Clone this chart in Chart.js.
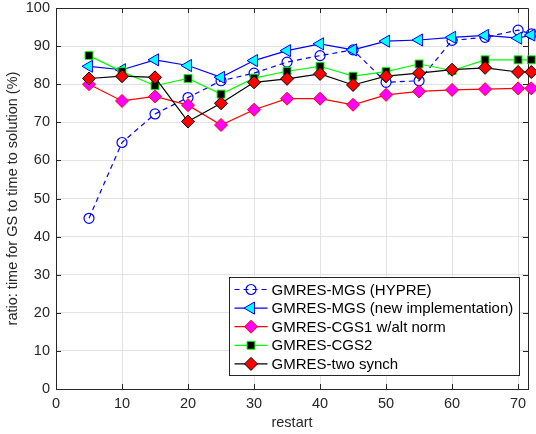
<!DOCTYPE html>
<html>
<head>
<meta charset="utf-8">
<script src="https://cdn.jsdelivr.net/npm/chart.js@4/dist/chart.umd.min.js"></script>
<style>
  html, body { margin: 0; padding: 0; background: #fff; }
  #wrap { width: 536px; height: 434px; }
</style>
</head>
<body>
<div id="wrap"><canvas id="chart" width="536" height="434"></canvas></div>
<script>
// data
const restart = [5, 10, 15, 20, 25, 30, 35, 40, 45, 50, 55, 60, 65, 70, 72];
const mgsHypre = [44.8, 64.7, 72.2, 76.5, 80.9, 82.9, 85.8, 87.5, 89.0, 80.5, 80.9, 91.5, 92.3, 94.2, 93.2];
const mgsNew = [84.7, 83.8, 86.4, 84.9, 81.8, 86.2, 88.8, 90.6, 89.0, 91.3, 91.6, 92.3, 92.8, 92.1, 92.9];
const cgs1 = [80.0, 75.6, 76.8, 74.5, 69.3, 73.3, 76.2, 76.2, 74.6, 77.2, 78.1, 78.5, 78.7, 78.9, 78.9];
const cgs2 = [87.5, 83.3, 79.6, 81.5, 77.4, 81.6, 83.4, 84.7, 82.1, 83.3, 85.3, 83.6, 86.4, 86.4, 86.4];
const twoSynch = [81.5, 82.1, 81.8, 70.2, 75.0, 80.5, 81.4, 82.7, 79.8, 82.1, 82.9, 83.8, 84.3, 83.2, 83.2];

const xTicks = [0, 10, 20, 30, 40, 50, 60, 70];
const yTicks = [0, 10, 20, 30, 40, 50, 60, 70, 80, 90, 100];
const xMax = 71.5;

const FONT = '"Liberation Sans", Arial, Helvetica, sans-serif';
const AXIS = '#262626';

const pts = vals => vals.map((v, i) => ({ x: restart[i], y: v }));

const datasets = [
  {
    label: 'GMRES-MGS (HYPRE)', data: pts(mgsHypre),
    borderColor: '#0000ff', borderWidth: 1.2, borderDash: [5, 4],
    pointStyle: 'circle', pointRadius: 5, pointBorderColor: '#0000ff',
    pointBackgroundColor: 'rgba(0,0,0,0)', pointBorderWidth: 1.2, order: 5
  },
  {
    label: 'GMRES-MGS (new implementation)', data: pts(mgsNew),
    borderColor: '#0000ff', borderWidth: 1.2,
    pointStyle: 'triangle', pointRotation: -90, pointRadius: 7, pointBorderColor: '#0000ff',
    pointBackgroundColor: '#00ffff', pointBorderWidth: 1, order: 4
  },
  {
    label: 'GMRES-CGS1 w/alt norm', data: pts(cgs1),
    borderColor: '#ff0000', borderWidth: 1.2,
    pointStyle: 'rectRot', pointRadius: 6.5, pointBorderColor: '#ff0000',
    pointBackgroundColor: '#ff00ff', pointBorderWidth: 1, order: 3
  },
  {
    label: 'GMRES-CGS2', data: pts(cgs2),
    borderColor: '#00ff00', borderWidth: 1.2,
    pointStyle: 'rect', pointRadius: 5.6, pointBorderColor: '#00ff00',
    pointBackgroundColor: '#000000', pointBorderWidth: 1, order: 2
  },
  {
    label: 'GMRES-two synch', data: pts(twoSynch),
    borderColor: '#000000', borderWidth: 1.2,
    pointStyle: 'rectRot', pointRadius: 6.5, pointBorderColor: '#000000',
    pointBackgroundColor: '#ff0000', pointBorderWidth: 1, order: 1
  }
];

// top/right box lines and inward tick marks, matlab style
const axesBox = {
  id: 'axesBox',
  beforeDatasetsDraw(chart) {
    const { ctx, chartArea: a, scales } = chart;
    ctx.save();
    ctx.strokeStyle = AXIS;
    ctx.lineWidth = 1;
    ctx.beginPath();
    ctx.moveTo(a.left, a.top + 0.5);
    ctx.lineTo(a.right + 0.5, a.top + 0.5);
    ctx.lineTo(a.right + 0.5, a.bottom);
    const tl = 5;
    xTicks.forEach(v => {
      const px = Math.round(scales.x.getPixelForValue(v)) + 0.5;
      ctx.moveTo(px, a.bottom); ctx.lineTo(px, a.bottom - tl);
      ctx.moveTo(px, a.top); ctx.lineTo(px, a.top + tl);
    });
    yTicks.forEach(v => {
      const py = Math.round(scales.y.getPixelForValue(v)) + 0.5;
      ctx.moveTo(a.left, py); ctx.lineTo(a.left + tl, py);
      ctx.moveTo(a.right, py); ctx.lineTo(a.right - tl, py);
    });
    ctx.stroke();
    ctx.restore();
  }
};

// legend box in lower right of the plot
const legendBox = {
  id: 'legendBox',
  afterDraw(chart) {
    const { ctx, chartArea: a } = chart;
    const right = a.right - 9, bottom = a.bottom - 14;
    const rowH = 18.6, lineLen = 33, textGap = 4;
    ctx.save();
    ctx.font = '15px ' + FONT;
    let tw = 0;
    datasets.forEach(d => { tw = Math.max(tw, ctx.measureText(d.label).width); });
    const w = 5 + lineLen + textGap + tw + 6;
    const h = rowH * datasets.length + 5;
    const left = Math.round(right - w) + 0.5, top = Math.round(bottom - h) + 0.5;
    ctx.fillStyle = '#fff';
    ctx.fillRect(left, top, w, h);
    ctx.strokeStyle = AXIS;
    ctx.lineWidth = 1;
    ctx.strokeRect(left, top, Math.round(w), Math.round(h));
    datasets.forEach((d, i) => {
      const cy = top + 12 + i * rowH;
      const x0 = left + 5, x1 = x0 + lineLen, cx = (x0 + x1) / 2;
      ctx.save();
      ctx.strokeStyle = d.borderColor;
      ctx.lineWidth = d.borderWidth;
      ctx.setLineDash(d.borderDash || []);
      ctx.beginPath();
      ctx.moveTo(x0, cy); ctx.lineTo(x1, cy);
      ctx.stroke();
      ctx.restore();
      ctx.fillStyle = d.pointBackgroundColor;
      ctx.strokeStyle = d.pointBorderColor;
      ctx.lineWidth = d.pointBorderWidth;
      Chart.helpers.drawPoint(ctx, {
        pointStyle: d.pointStyle, rotation: d.pointRotation || 0,
        radius: d.pointRadius, borderWidth: d.pointBorderWidth
      }, cx, cy);
      ctx.fillStyle = '#000';
      ctx.textBaseline = 'middle';
      ctx.textAlign = 'left';
      ctx.fillText(d.label, x1 + textGap, cy + 1);
    });
    ctx.restore();
  }
};

new Chart(document.getElementById('chart'), {
  type: 'line',
  data: { datasets },
  plugins: [axesBox, legendBox],
  options: {
    responsive: false,
    animation: false,
    events: [],
    layout: { padding: { top: 8, right: 4, left: 0, bottom: 0 } },
    elements: { line: { tension: 0, fill: false } },
    datasets: { line: { clip: false } },
    plugins: { legend: { display: false }, tooltip: { enabled: false } },
    scales: {
      x: {
        type: 'linear', min: 0, max: xMax,
        afterFit: s => { s.height = 45; s.paddingLeft = 0; s.paddingRight = 0; },
        afterBuildTicks: s => { s.ticks = xTicks.map(v => ({ value: v })); },
        ticks: { color: AXIS, padding: 6, font: { family: FONT, size: 14.5 } },
        grid: { color: '#e2e2e2', drawTicks: false },
        border: { color: AXIS, width: 1 },
        title: { display: true, text: 'restart', color: AXIS, padding: 2, font: { family: FONT, size: 14.5 } }
      },
      y: {
        min: 0, max: 100,
        afterFit: s => { s.width = 56; s.paddingTop = 0; s.paddingBottom = 0; },
        afterBuildTicks: s => { s.ticks = yTicks.map(v => ({ value: v })); },
        ticks: { color: AXIS, padding: 6, font: { family: FONT, size: 14.5 } },
        grid: { color: '#e2e2e2', drawTicks: false },
        border: { color: AXIS, width: 1 },
        title: { display: true, text: 'ratio: time for GS to time to solution (%)', color: AXIS, padding: 4, font: { family: FONT, size: 14.5 } }
      }
    }
  }
});
</script>
</body>
</html>
